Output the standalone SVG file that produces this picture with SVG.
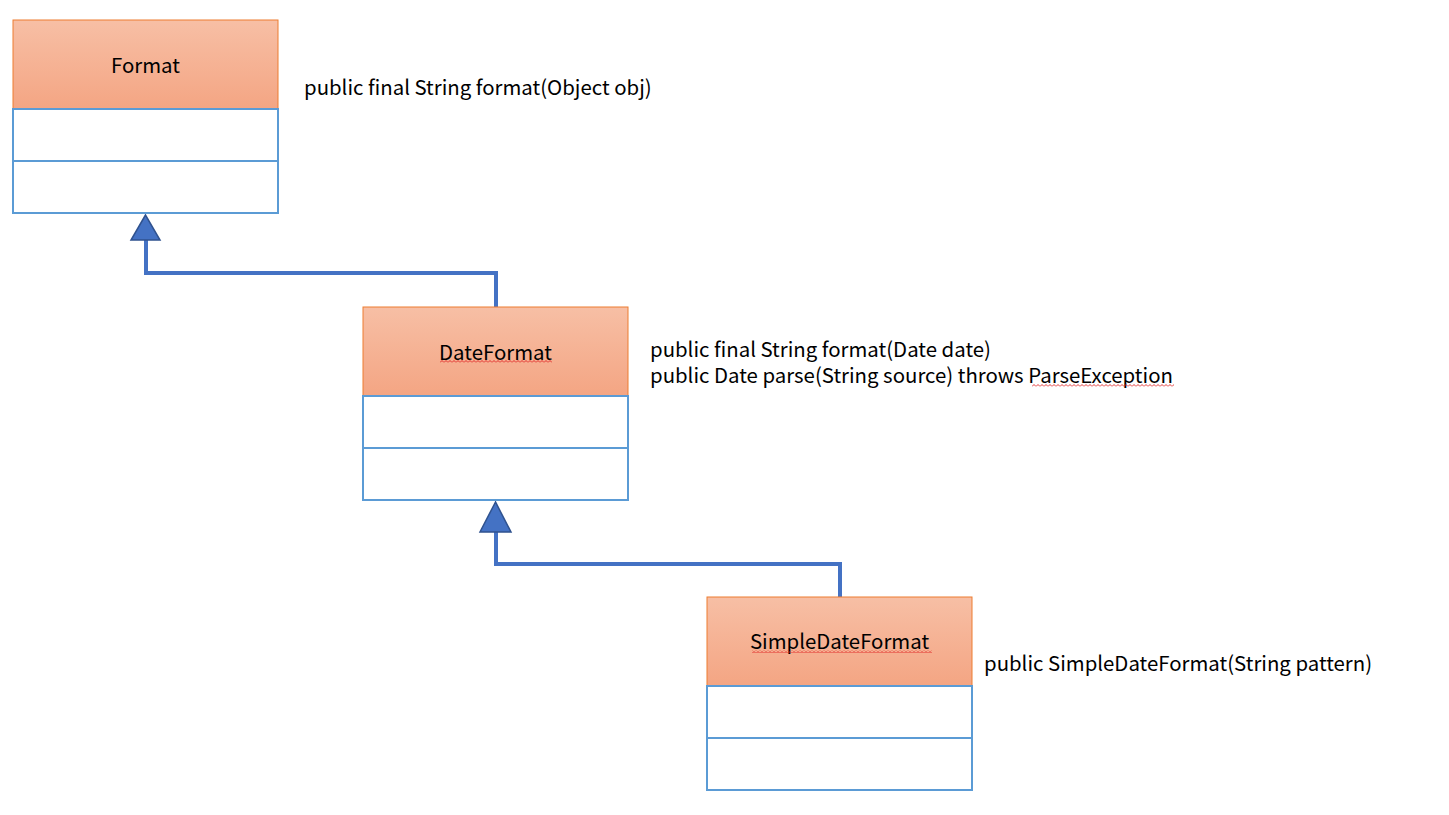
<svg xmlns="http://www.w3.org/2000/svg" width="1449" height="815" viewBox="0 0 1449 815">
<defs>
<linearGradient id="hdr" x1="0" y1="0" x2="0" y2="1">
<stop offset="0" stop-color="#F7BFA5"/>
<stop offset="1" stop-color="#F4A583"/>
</linearGradient>
<pattern id="sqp" x="0" y="0" width="4" height="3" patternUnits="userSpaceOnUse">
<path d="M0,2.5 L2,0.5 L4,2.5" fill="none" stroke="#E02020" stroke-width="0.9"/>
</pattern>
<style>
.hdr{fill:url(#hdr);stroke:#ED7D31;stroke-width:1}
.cmp{fill:#FFFFFF;stroke:#5B9BD5;stroke-width:2}
.t{font-family:"Noto Sans CJK SC","Noto Sans",sans-serif;font-size:20.4px;fill:#000}
.c{text-anchor:middle}
.conn{fill:none;stroke:#4472C4;stroke-width:4}
.tri{fill:#4472C4;stroke:#2F528F;stroke-width:1.5}
.sq{fill:url(#sqp)}
</style>
</defs>
<rect width="1449" height="815" fill="#FFFFFF"/>
<g id="connectors">
<polyline class="conn" points="146,240 146,273 496,273 496,307"/>
<polygon class="tri" points="145.5,215 131,240 160,240"/>
<polyline class="conn" points="496,532 496,564 840,564 840,597"/>
<polygon class="tri" points="495.5,502 480,532 511,532"/>
</g>
<g id="Format">
<rect class="hdr" x="13" y="20" width="265" height="89"/>
<rect class="cmp" x="13" y="109" width="265" height="52"/>
<rect class="cmp" x="13" y="161" width="265" height="52"/>
<text class="t c" x="145.5" y="73">Format</text>
<text class="t" x="304" y="95">public final String format(Object obj)</text>
</g>
<g id="DateFormat">
<rect class="hdr" x="363" y="307" width="265" height="89"/>
<rect class="cmp" x="363" y="396" width="265" height="52"/>
<rect class="cmp" x="363" y="448" width="265" height="52"/>
<text class="t c" x="495.5" y="360">DateFormat</text>
<rect class="sq" x="440" y="360" width="112" height="3"/>
<text class="t"><tspan x="650" y="357">public final String format(Date date)</tspan><tspan x="650" y="383">public Date parse(String source) throws ParseException</tspan></text>
<rect class="sq" x="1032" y="384" width="142" height="3"/>
</g>
<g id="SimpleDateFormat">
<rect class="hdr" x="707" y="597" width="265" height="89"/>
<rect class="cmp" x="707" y="686" width="265" height="52"/>
<rect class="cmp" x="707" y="738" width="265" height="52"/>
<text class="t c" x="839.5" y="649">SimpleDateFormat</text>
<rect class="sq" x="752" y="650" width="180" height="3"/>
<text class="t" x="984" y="671">public SimpleDateFormat(String pattern)</text>
</g>
</svg>
